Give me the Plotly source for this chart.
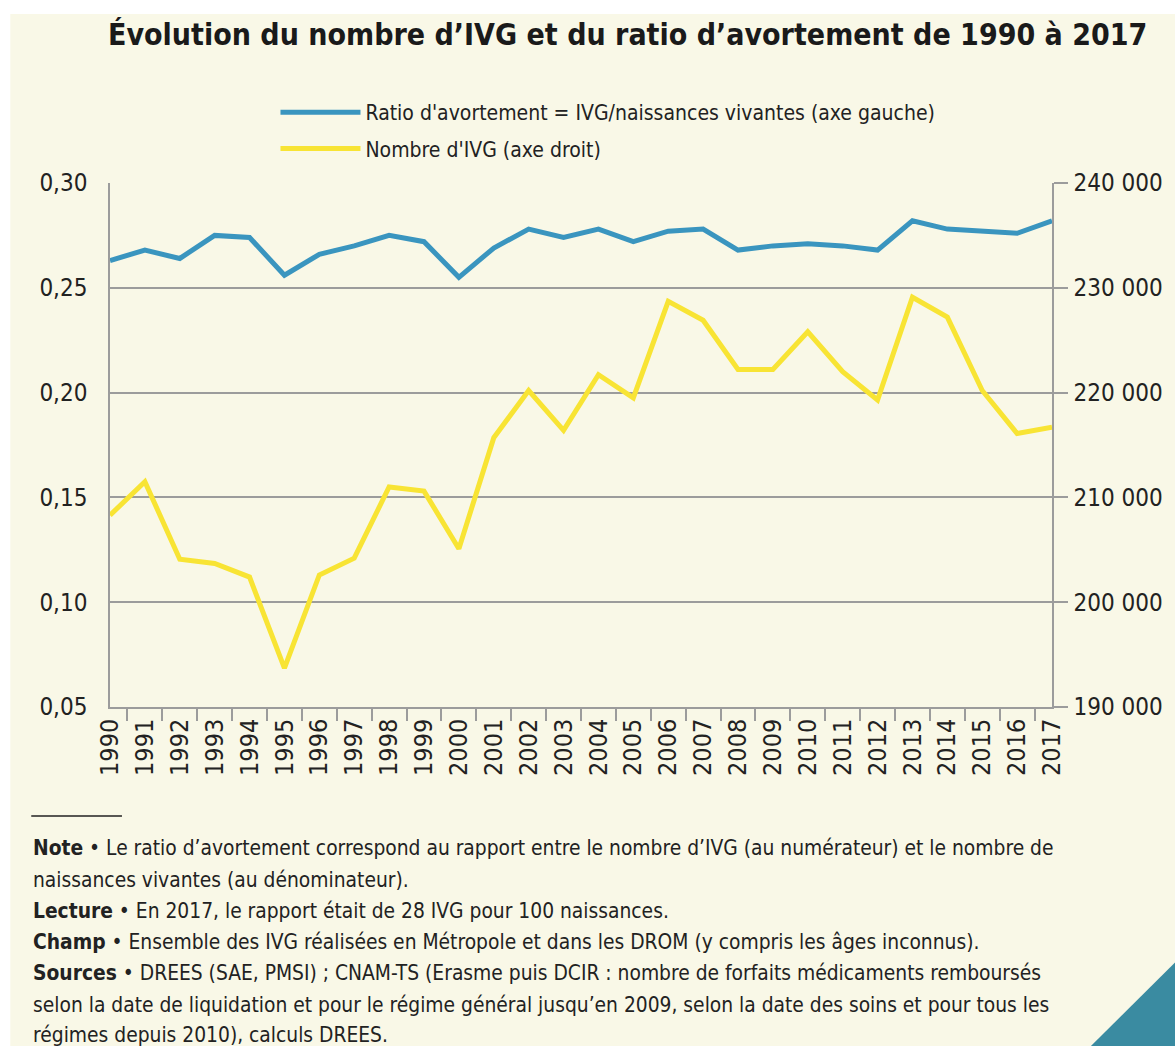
import plotly.graph_objects as go

years = [str(y) for y in range(1990, 2018)]
ratio = [0.263, 0.268, 0.264, 0.275, 0.274, 0.256, 0.266, 0.270, 0.275, 0.272,
         0.255, 0.269, 0.278, 0.274, 0.278, 0.272, 0.277, 0.278, 0.268, 0.270,
         0.271, 0.270, 0.268, 0.282, 0.278, 0.277, 0.276, 0.282]
ivg = [208300, 211500, 204100, 203700, 202400, 193700, 202600, 204200, 211000, 210600,
       205100, 215700, 220200, 216400, 221700, 219500, 228700, 226900, 222200, 222200,
       225800, 222000, 219300, 229100, 227200, 220200, 216100, 216700]

left_ticks = [0.05, 0.10, 0.15, 0.20, 0.25, 0.30]
right_ticks = [190000, 200000, 210000, 220000, 230000, 240000]

title = "Évolution du nombre d’IVG et du ratio d’avortement de 1990 à 2017"
name_ratio = "Ratio d'avortement = IVG/naissances vivantes (axe gauche)"
name_ivg = "Nombre d'IVG (axe droit)"
notes = [
    "<b>Note</b> • Le ratio d’avortement correspond au rapport entre le nombre d’IVG (au numérateur) et le nombre de",
    "naissances vivantes (au dénominateur).",
    "<b>Lecture</b> • En 2017, le rapport était de 28 IVG pour 100 naissances.",
    "<b>Champ</b> • Ensemble des IVG réalisées en Métropole et dans les DROM (y compris les âges inconnus).",
    "<b>Sources</b> • DREES (SAE, PMSI) ; CNAM-TS (Erasme puis DCIR : nombre de forfaits médicaments remboursés",
    "selon la date de liquidation et pour le régime général jusqu’en 2009, selon la date des soins et pour tous les",
    "régimes depuis 2010), calculs DREES.",
]

FONT = "Liberation Sans Narrow, Arial Narrow, DejaVu Sans Condensed, sans-serif"
BLUE = "#3A95BF"
YELLOW = "#F8E434"
GRID = "#9C9C9C"
CREAM = "#F9F8E7"
TXT = "#222222"

W, H = 1175, 1046
L, R, T, B = 110, 1055, 183, 707

def px(x):
    return (x - L) / (R - L)

def py(y):
    return (B - y) / (B - T)

fig = go.Figure()
fig.add_trace(go.Scatter(x=years, y=ratio, mode="lines", name=name_ratio,
                         line=dict(color=BLUE, width=5), yaxis="y", legendgroup="a"))
fig.add_trace(go.Scatter(x=years, y=ivg, mode="lines", name=name_ivg,
                         line=dict(color=YELLOW, width=5), yaxis="y2", legendgroup="b"))

annotations = [dict(text=f"<b>{title}</b>", x=px(629), y=py(34), xref="paper", yref="paper",
                    showarrow=False, xanchor="center", yanchor="middle",
                    font=dict(family=FONT, size=30, color="#1a1a1a"))]
note_y = [848, 880, 911, 942, 973, 1005, 1035]
for t, yy in zip(notes, note_y):
    annotations.append(dict(text=t, x=px(31), y=py(yy), xref="paper", yref="paper",
                            showarrow=False, xanchor="left", yanchor="middle",
                            font=dict(family=FONT, size=20.8, color=TXT)))

shapes = [
    dict(type="rect", xref="paper", yref="paper", x0=px(-5), x1=px(W + 5), y0=py(-5), y1=py(14),
         fillcolor="white", line=dict(width=0), layer="above"),
    dict(type="rect", xref="paper", yref="paper", x0=px(-5), x1=px(10), y0=py(-5), y1=py(H + 5),
         fillcolor="white", line=dict(width=0), layer="above"),
    dict(type="line", xref="paper", yref="paper", x0=px(31), x1=px(122), y0=py(816), y1=py(816),
         line=dict(color="#222222", width=1.5)),
    dict(type="path", xref="paper", yref="paper",
         path=f"M {px(1090)} {py(1050)} L {px(1180)} {py(1050)} L {px(1180)} {py(961)} Z",
         fillcolor="#3A8BA1", line=dict(width=0)),
]

fig.update_layout(
    width=W, height=H,
    margin=dict(l=L, r=W - R, t=T, b=H - B, pad=0),
    paper_bgcolor=CREAM, plot_bgcolor=CREAM,
    separators=", ",
    font=dict(family=FONT, size=21, color=TXT),
    showlegend=True,
    legend=dict(x=px(276), y=py(92), xanchor="left", yanchor="top",
                bgcolor="rgba(0,0,0,0)", font=dict(family=FONT, size=21, color=TXT),
                tracegroupgap=6, itemwidth=80),
    xaxis=dict(type="category", tickangle=-90, showline=True, linecolor=GRID, linewidth=1.5,
               ticks="outside", tickson="boundaries", ticklen=12, tickcolor=GRID, tickwidth=1.5,
               showgrid=False, tickfont=dict(family=FONT, size=25, color=TXT)),
    yaxis=dict(range=[0.05, 0.30], tickvals=left_ticks, tickformat=".2f", showgrid=True,
               gridcolor=GRID, gridwidth=1.5, showline=True, linecolor=GRID, linewidth=1.5,
               ticks="", ticklabelstandoff=16, zeroline=False,
               tickfont=dict(family=FONT, size=24, color=TXT)),
    yaxis2=dict(range=[190000, 240000], tickvals=right_ticks, tickformat=",d", overlaying="y",
                side="right", showgrid=False, showline=True, linecolor=GRID, linewidth=1.5,
                ticks="outside", ticklen=14, tickcolor=GRID, tickwidth=1.5, zeroline=False,
                ticklabelstandoff=1, tickfont=dict(family=FONT, size=24, color=TXT)),
    annotations=annotations,
    shapes=shapes,
)

fig.write_html("out.html", config={"displayModeBar": False},
               post_script="document.body.style.margin='0';")
